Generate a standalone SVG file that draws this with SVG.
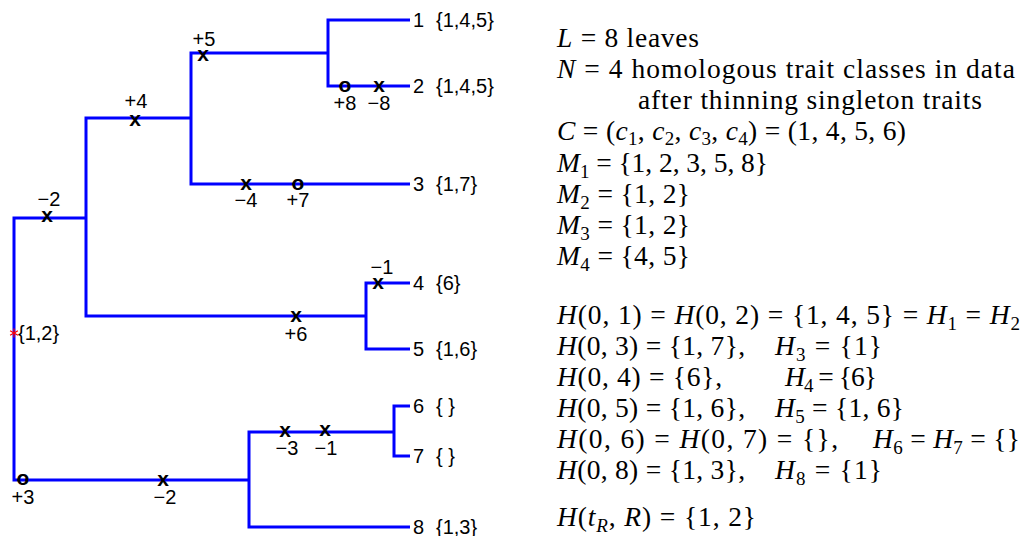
<svg xmlns="http://www.w3.org/2000/svg" width="1025" height="536" viewBox="0 0 1025 536">
<style>
.br{fill:none;stroke:#0000ff;stroke-width:3;stroke-linejoin:miter;stroke-linecap:butt}
.t{font-family:"Liberation Sans",Arial,sans-serif;font-size:20px;fill:#000}
.c{text-anchor:middle}
.mk{font-family:"Liberation Sans",Arial,sans-serif;font-weight:bold;font-size:21px;text-anchor:middle;fill:#000}
.r{font-family:"Liberation Serif","Times New Roman",serif;font-size:27.5px;fill:#000}
.i{font-style:italic}
.s{font-size:19px}
</style>
<rect width="1025" height="536" fill="#fff"/>
<g id="connectors">
<path class="br" d="M86,218 H14 V480 H249"/>
<path class="br" d="M191,118 H86 V316 H366"/>
<path class="br" d="M328,53 H191 V184 H410"/>
<path class="br" d="M410,20 H328 V86 H410"/>
<path class="br" d="M410,283 H366 V349 H410"/>
<path class="br" d="M394,432 H249 V527 H410"/>
<path class="br" d="M410,406 H394 V456 H410"/>
</g>
<g id="root">
<path d="M14,328.5 V337.5 M10.1,330.8 L17.9,335.2 M10.1,335.2 L17.9,330.8" stroke="#ff0000" stroke-width="1.2" fill="none"/>
<text class="t" x="18" y="340">{1,2}</text>
</g>
<g id="leaf-1"><text class="t" x="413" y="27">1</text><text class="t" x="436" y="27">{1,4,5}</text></g>
<g id="leaf-2"><text class="t" x="413" y="93">2</text><text class="t" x="436" y="93">{1,4,5}</text></g>
<g id="leaf-3"><text class="t" x="413" y="191">3</text><text class="t" x="436" y="191">{1,7}</text></g>
<g id="leaf-4"><text class="t" x="413" y="290">4</text><text class="t" x="436" y="290">{6}</text></g>
<g id="leaf-5"><text class="t" x="413" y="356">5</text><text class="t" x="436" y="356">{1,6}</text></g>
<g id="leaf-6"><text class="t" x="413" y="413">6</text><text class="t" x="436" y="413">{ }</text></g>
<g id="leaf-7"><text class="t" x="413" y="463">7</text><text class="t" x="436" y="463">{ }</text></g>
<g id="leaf-8"><text class="t" x="413" y="534">8</text><text class="t" x="436" y="534">{1,3}</text></g>
<g id="events">
<text class="mk" x="203" y="61">x</text><text class="t c" x="204" y="46">+5</text>
<text class="mk" x="135" y="126">x</text><text class="t c" x="136" y="108">+4</text>
<text class="mk" x="47" y="222">x</text><text class="t c" x="49" y="206">−2</text>
<text class="mk" x="246" y="190">x</text><text class="t c" x="246" y="207">−4</text>
<text class="mk" x="298" y="190">o</text><text class="t c" x="298" y="207">+7</text>
<text class="mk" x="345" y="92">o</text><text class="t c" x="345" y="110">+8</text>
<text class="mk" x="379" y="92">x</text><text class="t c" x="379" y="110">−8</text>
<text class="mk" x="296" y="322">x</text><text class="t c" x="296" y="341">+6</text>
<text class="mk" x="378" y="289">x</text><text class="t c" x="382" y="274">−1</text>
<text class="mk" x="285" y="437">x</text><text class="t c" x="287" y="455">−3</text>
<text class="mk" x="325" y="436">x</text><text class="t c" x="326" y="455">−1</text>
<text class="mk" x="23" y="485">o</text><text class="t c" x="23" y="504">+3</text>
<text class="mk" x="163" y="486">x</text><text class="t c" x="165" y="504">−2</text>
</g>
<g id="summary">
<text class="r" x="557" y="47" textLength="142"><tspan class="i">L</tspan> = 8 leaves</text>
<text class="r" x="557" y="78" textLength="458"><tspan class="i">N</tspan> = 4 homologous trait classes in data</text>
<text class="r" x="638" y="109" textLength="344">after thinning singleton traits</text>
<text class="r" x="557" y="140" textLength="349"><tspan class="i">C</tspan> = (<tspan class="i">c</tspan><tspan class="s" dy="5">1</tspan><tspan dy="-5">, </tspan><tspan class="i">c</tspan><tspan class="s" dy="5">2</tspan><tspan dy="-5">, </tspan><tspan class="i">c</tspan><tspan class="s" dy="5">3</tspan><tspan dy="-5">, </tspan><tspan class="i">c</tspan><tspan class="s" dy="5">4</tspan><tspan dy="-5">) = (1, 4, 5, 6)</tspan></text>
<text class="r" x="557" y="172" textLength="211"><tspan class="i">M</tspan><tspan class="s" dy="6">1</tspan><tspan dy="-6"> = {1, 2, 3, 5, 8}</tspan></text>
<text class="r" x="557" y="203" textLength="133"><tspan class="i">M</tspan><tspan class="s" dy="6">2</tspan><tspan dy="-6"> = {1, 2}</tspan></text>
<text class="r" x="557" y="234" textLength="133"><tspan class="i">M</tspan><tspan class="s" dy="6">3</tspan><tspan dy="-6"> = {1, 2}</tspan></text>
<text class="r" x="557" y="265" textLength="133"><tspan class="i">M</tspan><tspan class="s" dy="6">4</tspan><tspan dy="-6"> = {4, 5}</tspan></text>
<text class="r" x="557" y="324" textLength="463"><tspan class="i">H</tspan>(0, 1) = <tspan class="i">H</tspan>(0, 2) = {1, 4, 5} = <tspan class="i">H</tspan><tspan class="s" dy="6">1</tspan><tspan dy="-6"> = </tspan><tspan class="i">H</tspan><tspan class="s" dy="6">2</tspan></text>
<text class="r" x="557" y="355" textLength="188"><tspan class="i">H</tspan>(0, 3) = {1, 7},</text>
<text class="r" x="775" y="355" textLength="107"><tspan class="i">H</tspan><tspan class="s" dy="6">3</tspan><tspan dy="-6"> = {1}</tspan></text>
<text class="r" x="557" y="386" textLength="165"><tspan class="i">H</tspan>(0, 4) = {6},</text>
<text class="r" x="785" y="386" textLength="92"><tspan class="i">H</tspan><tspan class="s" dy="6">4</tspan><tspan dy="-6"> = {6}</tspan></text>
<text class="r" x="557" y="417" textLength="188"><tspan class="i">H</tspan>(0, 5) = {1, 6},</text>
<text class="r" x="775" y="417" textLength="129"><tspan class="i">H</tspan><tspan class="s" dy="6">5</tspan><tspan dy="-6"> = {1, 6}</tspan></text>
<text class="r" x="557" y="448" textLength="281"><tspan class="i">H</tspan>(0, 6) = <tspan class="i">H</tspan>(0, 7) = {},</text>
<text class="r" x="873" y="448" textLength="147"><tspan class="i">H</tspan><tspan class="s" dy="6">6</tspan><tspan dy="-6"> = </tspan><tspan class="i">H</tspan><tspan class="s" dy="6">7</tspan><tspan dy="-6"> = {}</tspan></text>
<text class="r" x="557" y="479" textLength="188"><tspan class="i">H</tspan>(0, 8) = {1, 3},</text>
<text class="r" x="775" y="479" textLength="107"><tspan class="i">H</tspan><tspan class="s" dy="6">8</tspan><tspan dy="-6"> = {1}</tspan></text>
<text class="r" x="557" y="526" textLength="199"><tspan class="i">H</tspan>(<tspan class="i">t</tspan><tspan class="s i" dy="6">R</tspan><tspan dy="-6">, </tspan><tspan class="i">R</tspan>) = {1, 2}</text>
</g>
</svg>
